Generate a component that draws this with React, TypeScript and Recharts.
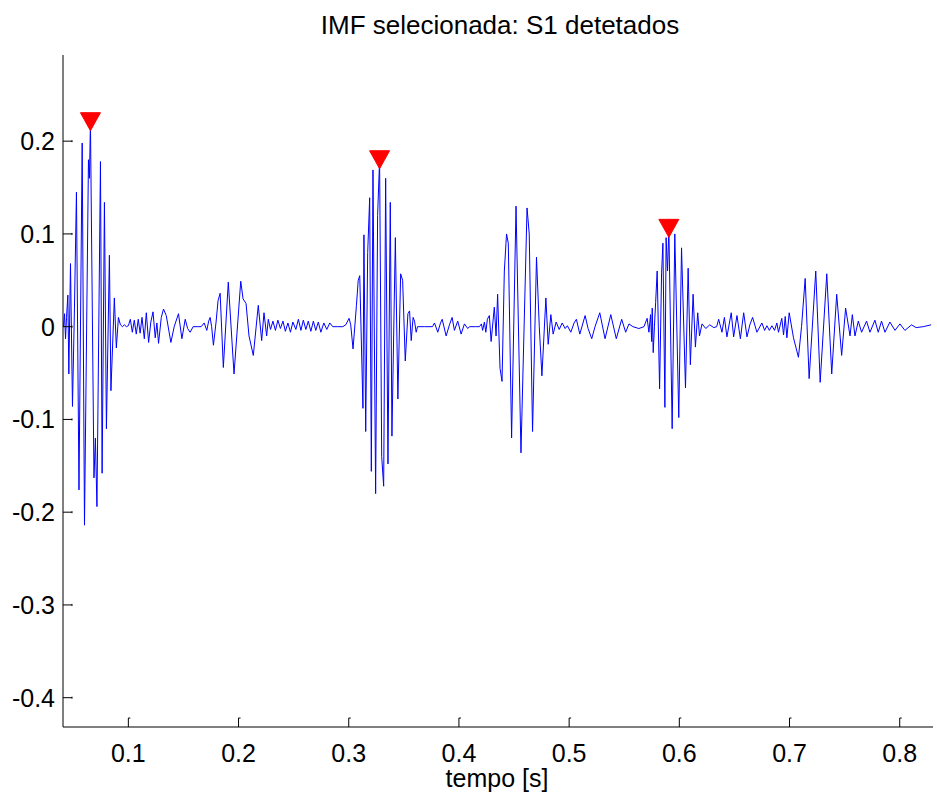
import React from 'react';
import { ComposedChart, Line, XAxis, YAxis } from 'recharts';

// IMF samples, [tempo (s), amplitude]
const burst1: [number, number][] = [
  [0.0412, 0], [0.0421, 0.014], [0.043, -0.013], [0.0439, 0.01], [0.0451, 0.034], [0.046, -0.051],
  [0.0475, 0.068], [0.0493, -0.086], [0.0511, 0.02], [0.0529, 0.145], [0.0552, -0.176], [0.0581, 0.198],
  [0.0602, -0.214], [0.0638, 0.18], [0.0647, 0.16], [0.0656, 0.221], [0.0688, -0.163], [0.0701, -0.12],
  [0.0715, -0.194], [0.0747, 0.178], [0.0762, -0.158], [0.0783, 0.134], [0.0801, -0.11], [0.0828, 0.077],
  [0.0842, -0.069], [0.0873, 0.031], [0.0891, -0.023], [0.091, 0.01], [0.0928, 0.002],
];
const quiet1: [number, number][] = [
  [0.0946, 0], [0.0964, 0.002], [0.0982, 0], [0.1, 0.001], [0.1018, 0.008], [0.1036, -0.006],
  [0.1054, 0.007], [0.1072, -0.008], [0.109, 0.008], [0.1107, -0.007], [0.1124, 0.01], [0.1145, -0.013],
  [0.1163, 0.015], [0.1184, -0.017], [0.1204, 0.005], [0.1224, 0.016], [0.1244, -0.012], [0.1259, 0.004],
  [0.1274, -0.018], [0.1299, 0.01], [0.1319, 0.019], [0.1344, 0.012], [0.1386, -0.017], [0.1416, 0],
  [0.1455, 0.014], [0.1486, -0.013], [0.1516, 0.008], [0.1538, -0.002], [0.1561, -0.006], [0.1588, 0],
  [0.1624, 0], [0.1661, 0], [0.1688, 0.004], [0.1712, -0.004],
];
const burst2: [number, number][] = [
  [0.1729, 0.006], [0.1742, 0.01], [0.1756, 0], [0.1772, -0.02], [0.1796, 0.005], [0.1814, 0.028],
  [0.1833, 0.036], [0.1862, -0.044], [0.1907, 0.048], [0.1959, -0.051], [0.202, 0.049], [0.2041, 0.03],
  [0.2068, 0.025], [0.2095, -0.01], [0.2134, -0.031], [0.2179, 0.023], [0.221, -0.015], [0.2231, 0.015],
  [0.2255, -0.01], [0.227, 0.008],
];
const quiet2: [number, number][] = [
  [0.229, -0.003], [0.2312, 0.006], [0.2335, -0.004], [0.2357, 0.007], [0.238, -0.002], [0.2403, 0.006],
  [0.2425, -0.005], [0.2448, 0.004], [0.2471, -0.006], [0.2493, 0.005], [0.252, -0.003], [0.2543, 0.008],
  [0.2566, -0.004], [0.2588, 0.007], [0.2611, -0.003], [0.2633, 0.006], [0.2656, -0.005], [0.2679, 0.006],
  [0.2701, -0.004], [0.2724, 0.005], [0.2747, -0.006], [0.2774, 0.004], [0.2801, -0.003], [0.2828, 0.004],
  [0.2855, 0], [0.29, 0], [0.2946, 0], [0.2973, 0.002],
];
const burst3: [number, number][] = [
  [0.3003, 0.009], [0.3018, 0.002], [0.3039, -0.024], [0.307, 0.023], [0.3086, 0.05], [0.31, 0.055],
  [0.3129, -0.088], [0.3138, 0.099], [0.3154, -0.113], [0.3172, 0.08], [0.319, 0.139], [0.3205, -0.156],
  [0.322, 0.169], [0.3244, -0.18], [0.3262, 0.12], [0.328, 0.18], [0.3299, -0.14], [0.3317, -0.172],
  [0.3335, 0.16], [0.3356, -0.148], [0.3377, 0.134], [0.3392, -0.118], [0.3423, 0.096], [0.3446, -0.078],
  [0.3471, 0.057], [0.3489, 0.05], [0.3513, -0.037], [0.3537, 0.014], [0.3552, 0.017], [0.3567, -0.015],
  [0.3584, 0.01], [0.3597, 0.006], [0.3612, -0.006],
];
const quiet3: [number, number][] = [
  [0.3624, 0], [0.3688, 0], [0.376, 0], [0.3778, 0.004], [0.3808, -0.006], [0.3833, 0.004],
  [0.3848, 0.008], [0.3884, -0.01], [0.3914, 0.002], [0.3938, 0.01], [0.3959, -0.004], [0.3989, 0.006],
  [0.402, -0.008], [0.405, 0.003], [0.408, -0.002], [0.4095, 0], [0.4149, 0], [0.4186, 0], [0.4204, 0.003],
];
const burst4: [number, number][] = [
  [0.4215, -0.004], [0.4231, 0.005], [0.4244, -0.006], [0.4258, 0.008], [0.4276, 0.012], [0.4292, -0.016],
  [0.4321, 0.021], [0.4337, -0.01], [0.4351, 0.035], [0.4373, -0.045], [0.4391, -0.059], [0.4412, 0.06],
  [0.4432, 0.1], [0.4448, 0.09], [0.4478, -0.12], [0.4518, 0.13], [0.4563, -0.136], [0.4618, 0.128],
  [0.4638, 0.1], [0.4668, -0.113], [0.4704, 0.075], [0.4729, 0], [0.4753, -0.053], [0.4789, 0.031],
  [0.481, -0.019], [0.4834, 0.013], [0.4855, -0.008],
];
const quiet4: [number, number][] = [
  [0.4882, 0.005], [0.491, -0.003], [0.4937, 0.004], [0.4964, -0.002], [0.4984, 0.001], [0.5015, -0.006],
  [0.5045, 0.004], [0.5066, 0.008], [0.5097, -0.008], [0.5145, 0.012], [0.5172, -0.002], [0.5205, -0.013],
  [0.5235, 0], [0.5278, 0.015], [0.5326, -0.013], [0.5378, 0.013], [0.5428, -0.013], [0.5477, 0.008],
  [0.5513, -0.006], [0.5543, 0.003], [0.5579, 0], [0.5633, -0.002], [0.5679, 0],
];
const burst5: [number, number][] = [
  [0.5708, 0.009], [0.5724, -0.006], [0.5739, 0.013], [0.5749, -0.016], [0.5754, 0.02], [0.5763, -0.028],
  [0.5774, 0], [0.5785, 0.026], [0.5799, 0.06], [0.5821, -0.067], [0.5839, 0.058], [0.5851, 0.09],
  [0.5869, -0.087], [0.588, 0.096], [0.5893, 0.06], [0.5905, 0.106], [0.5935, -0.11], [0.5959, 0.1],
  [0.5995, -0.098], [0.602, 0.085], [0.6056, -0.066], [0.608, 0.063], [0.61, -0.041], [0.6125, 0.035],
  [0.6146, -0.022], [0.6167, 0.015], [0.6183, -0.01], [0.6206, 0.003],
];
const quiet5: [number, number][] = [
  [0.624, -0.002], [0.6276, 0.002], [0.6312, -0.001], [0.6339, 0], [0.6357, 0.008], [0.6387, -0.006],
  [0.6409, 0.01], [0.6432, -0.011], [0.6471, 0.015], [0.6493, -0.011], [0.6523, 0.012], [0.6554, -0.013],
  [0.6584, 0.015], [0.6614, -0.011], [0.664, 0.002], [0.6665, 0.01], [0.6704, -0.006], [0.6749, 0.004],
  [0.6774, -0.004], [0.6795, 0.001], [0.6817, -0.004], [0.684, 0.001], [0.6864, -0.004], [0.6885, 0.004],
  [0.69, -0.006], [0.693, 0.009], [0.6946, -0.009], [0.6961, 0.011], [0.6976, -0.012], [0.6997, 0.015],
];
const burst6: [number, number][] = [
  [0.7036, -0.012], [0.7081, -0.033], [0.7109, 0], [0.7142, 0.052], [0.7178, -0.056], [0.7238, 0.06],
  [0.7278, -0.06], [0.7338, 0.057], [0.7383, -0.051], [0.7428, 0.035], [0.7473, -0.031], [0.7509, 0.02],
  [0.7549, -0.01], [0.757, 0.013], [0.7594, -0.01],
];
const tail: [number, number][] = [
  [0.7624, 0.006], [0.7654, -0.006], [0.7699, 0.006], [0.773, -0.006], [0.7775, 0.007], [0.7805, -0.006],
  [0.7835, 0.006], [0.7866, -0.006], [0.7911, 0.005], [0.7957, -0.004], [0.8002, 0.003], [0.8047, -0.004],
  [0.8107, 0.002], [0.8149, -0.001], [0.8213, 0], [0.8285, 0.002],
];

// detected S1 peaks
const peakTimes = [0.0656, 0.328, 0.5905];
const peakValues = [0.221, 0.18, 0.106];

const xTicks = [0.1, 0.2, 0.3, 0.4, 0.5, 0.6, 0.7, 0.8];
const yTicks = [-0.4, -0.3, -0.2, -0.1, 0, 0.1, 0.2];

const samples = [
  ...burst1, ...quiet1, ...burst2, ...quiet2, ...burst3, ...quiet3,
  ...burst4, ...quiet4, ...burst5, ...quiet5, ...burst6, ...tail,
];

const data = samples.map(([t, v]) => {
  const i = peakTimes.indexOf(t);
  return { t, v, peak: i >= 0 ? peakValues[i] : null };
});

const FONT = '"Liberation Sans", Arial, Helvetica, sans-serif';

const XTick = ({ x, y, payload }: any) => (
  <g>
    <line x1={x} y1={y} x2={x} y2={y - 9} stroke="#000" />
    <line x1={x} y1={y - 9} x2={x + 2} y2={y - 9} stroke="#000" />
    <text x={x} y={y + 35} textAnchor="middle" fontSize={25} fontFamily={FONT} fill="#000">
      {payload.value}
    </text>
  </g>
);

const YTick = ({ x, y, payload }: any) => (
  <g>
    <line x1={x} y1={y} x2={x + 9} y2={y} stroke="#000" />
    <line x1={x + 9} y1={y - 1} x2={x + 9} y2={y + 1} stroke="#000" />
    <text x={x - 8} y={y + 9} textAnchor="end" fontSize={25} fontFamily={FONT} fill="#000">
      {String(payload.value)}
    </text>
  </g>
);

const PeakMarker = (props: any) => {
  const { cx, cy, payload, index } = props;
  if (payload == null || payload.peak == null || cx == null || cy == null) {
    return <g key={`pk-${index}`} />;
  }
  const pts = `${cx - 10},${cy - 9} ${cx + 10},${cy - 9} ${cx},${cy + 9}`;
  return <polygon key={`pk-${index}`} points={pts} fill="#ff0000" stroke="#ff0000" />;
};

export default function App() {
  return (
    <div style={{ position: 'absolute', left: 0, top: 0, width: 937, height: 803, background: '#fff' }}>
      <ComposedChart
        width={937}
        height={803}
        data={data}
        margin={{ top: 55, right: 4, bottom: 16, left: 0 }}
      >
        <XAxis
          dataKey="t"
          type="number"
          domain={[0.0407, 0.8302]}
          allowDataOverflow
          ticks={xTicks}
          tick={<XTick />}
          tickLine={false}
          tickSize={0}
          tickMargin={0}
          height={60}
          axisLine={{ stroke: '#000' }}
          interval={0}
        />
        <YAxis
          type="number"
          domain={[-0.4316, 0.2929]}
          allowDataOverflow
          ticks={yTicks}
          tick={<YTick />}
          tickLine={false}
          tickSize={0}
          tickMargin={0}
          width={63}
          axisLine={{ stroke: '#000' }}
          interval={0}
        />
        <Line
          dataKey="v"
          type="linear"
          stroke="#0000ff"
          strokeWidth={1}
          dot={false}
          activeDot={false}
          isAnimationActive={false}
        />
        <Line
          dataKey="peak"
          type="linear"
          stroke="none"
          dot={PeakMarker}
          activeDot={false}
          connectNulls={false}
          isAnimationActive={false}
        />
      </ComposedChart>
      <svg
        width={937}
        height={803}
        style={{ position: 'absolute', left: 0, top: 0, pointerEvents: 'none' }}
      >
        <text x={500} y={34} textAnchor="middle" fontSize={26} fontFamily={FONT} fill="#000">
          IMF selecionada: S1 detetados
        </text>
        <text x={497} y={787} textAnchor="middle" fontSize={25} fontFamily={FONT} fill="#000">
          tempo [s]
        </text>
      </svg>
    </div>
  );
}
